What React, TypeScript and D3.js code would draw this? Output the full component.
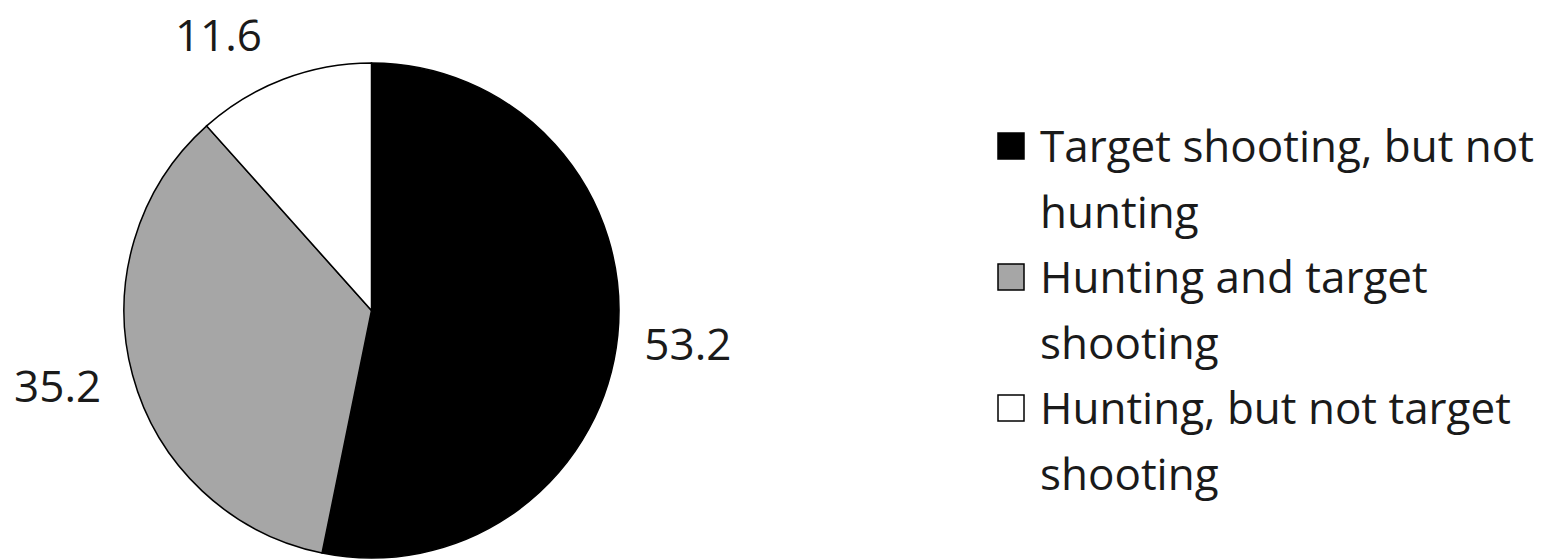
import React from "react";
import * as d3 from "d3";

const categories = [
  "Target shooting, but not hunting",
  "Hunting and target shooting",
  "Hunting, but not target shooting",
];
const values = [53.2, 35.2, 11.6];
const legendLines = [
  ["Target shooting, but not", "hunting"],
  ["Hunting and target", "shooting"],
  ["Hunting, but not target", "shooting"],
];
const fills = ["#000000", "#a6a6a6", "#ffffff"];

const W = 1546;
const H = 559;
const cx = 371.5;
const cy = 310.5;
const R = 247.5;
const labelR = 320;
const font = "'Open Sans', sans-serif";
// layout nudges of the data labels (Excel-style outside-end placement)
const labelNudge: [number, number][] = [
  [-2, 0],
  [-5, -9],
  [-39, 22],
];

export default function App() {
  const data = categories.map((c, i) => ({ c, v: values[i], i }));
  const pie = d3.pie<any>().sort(null).value((d) => d.v);
  const arcs = pie(data);
  const arc = d3.arc<any>().innerRadius(0).outerRadius(R);
  const labelArc = d3.arc<any>().innerRadius(labelR).outerRadius(labelR);

  const legX = 998;
  const sq = 26;
  const textX = 1040;
  const firstBase = 162;
  const lineH = 65.5;

  return (
    <svg
      width={W}
      height={H}
      style={{ position: "absolute", left: 0, top: 0, background: "#fff" }}
    >
      <g transform={`translate(${cx},${cy})`}>
        {arcs.map((a, i) => (
          <path
            key={i}
            d={arc(a) as string}
            fill={fills[i]}
            stroke="#000"
            strokeWidth={1.5}
          />
        ))}
        {arcs.map((a, i) => {
          const [x, y] = labelArc.centroid(a);
          return (
            <text
              key={"l" + i}
              x={x + labelNudge[i][0]}
              y={y + labelNudge[i][1]}
              textAnchor="middle"
              dominantBaseline="central"
              fontFamily={font}
              fontSize={44}
              fill="#1a1a1a"
            >
              {values[i].toFixed(1)}
            </text>
          );
        })}
      </g>
      {legendLines.map((lines, i) => {
        const base = firstBase + i * 2 * lineH;
        return (
          <g key={"g" + i}>
            <rect
              x={legX}
              y={base - 29}
              width={sq}
              height={sq}
              fill={fills[i]}
              stroke="#000"
              strokeWidth={1.5}
            />
            {lines.map((t, j) => (
              <text
                key={j}
                x={textX}
                y={base + j * lineH}
                fontFamily={font}
                fontSize={44}
                fill="#1a1a1a"
              >
                {t}
              </text>
            ))}
          </g>
        );
      })}
    </svg>
  );
}
